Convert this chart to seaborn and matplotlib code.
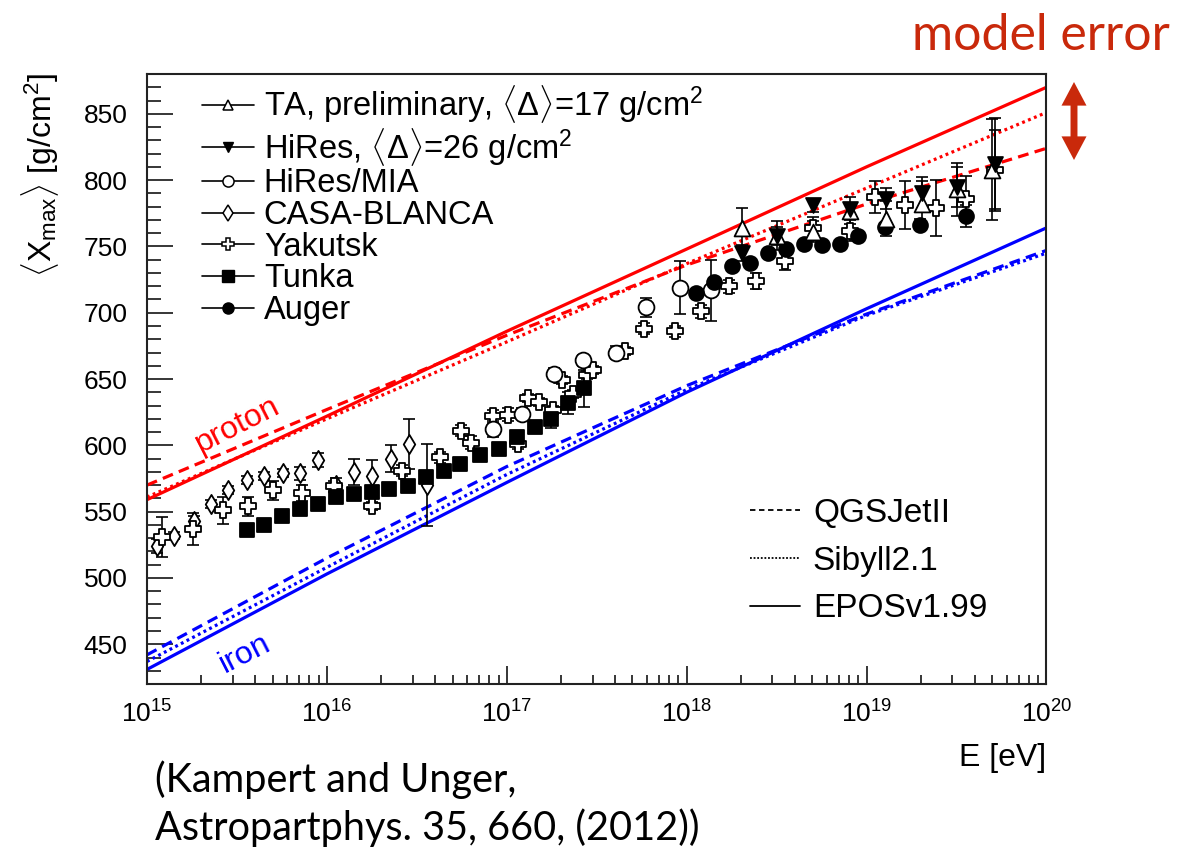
import numpy as np
import pandas as pd
import matplotlib
matplotlib.use('Agg')
import matplotlib.pyplot as plt
import seaborn as sns
from matplotlib.lines import Line2D
from matplotlib.patches import FancyArrowPatch
from matplotlib.ticker import LogLocator, LogFormatterMathtext, MultipleLocator

# ---- data ----
# model curves, one value per decade 1e15 .. 1e20
model_E = [1e15, 1e16, 1e17, 1e18, 1e19, 1e20]
epos_p = [559, 622, 686, 748, 810, 870]
qgs_p = [570, 627, 683, 736, 782, 824]
sib_p = [561, 620, 678, 737, 794, 851]
epos_fe = [431, 503, 572, 640, 703, 764]
qgs_fe = [442, 515, 584, 645, 699, 747]
sib_fe = [437, 508, 578, 642, 698, 745]

ta_E = [2.03e18, 3.17e18, 5.04e18, 8.05e18, 1.28e19, 2.04e19, 3.18e19, 4.99e19]
ta_X = [764, 758, 761, 777, 771, 782, 793, 808]
ta_err = [15, 11, 8, 10, 13, 17, 20, 38]

hires_E = [2.03e18, 3.17e18, 5.07e18, 8.05e18, 1.28e19, 2.04e19, 3.18e19, 5.16e19]
hires_X = [745, 758, 781, 778, 786, 790, 795, 812]
hires_err = [6, 7, 5, 5, 8, 12, 15, 35]

mia_E = [8.43e16, 1.22e17, 1.82e17, 2.67e17, 4.06e17, 5.96e17, 9.23e17, 1.36e18]
mia_X = [612, 624, 654, 664, 670, 704, 719, 717]
mia_err = [6, 4, 4, 4, 5, 7, 20, 23]

casa_E = [1.13e15, 1.41e15, 1.82e15, 2.26e15, 2.83e15, 3.58e15, 4.49e15, 5.69e15,
          7.1e15, 8.97e15, 1.12e16, 1.42e16, 1.79e16, 2.26e16, 2.88e16, 3.6e16]
casa_X = [524, 532, 543, 556, 566, 574, 577, 579, 579, 589, 570, 580, 577, 590, 601, 570]
casa_err = [5, 3, 4, 3, 3, 3, 3, 3, 5, 5, 5, 10, 12, 10, 19, 31]

yak_E = [1.21e15, 1.81e15, 2.64e15, 3.63e15, 5.0e15, 7.24e15, 1.09e16, 1.79e16,
         2.61e16, 4.23e16, 5.57e16, 6.34e16, 8.43e16, 1.01e17, 1.15e17, 1.31e17,
         1.52e17, 1.8e17, 2.02e17, 2.33e17, 2.79e17, 3.03e17, 4.56e17, 5.83e17,
         8.65e17, 1.2e18, 1.71e18, 2.43e18, 3.53e18, 5.04e18, 8.05e18, 1.11e19,
         1.63e19, 2.42e19, 3.57e19, 5.16e19]
yak_X = [531, 537, 551, 554, 566, 564, 569, 554, 581, 591, 611, 602, 622, 623, 601, 636,
         633, 627, 649, 639, 653, 657, 671, 688, 686, 701, 720, 724, 739, 764, 762, 787,
         781, 779, 786, 808]
yak_err = [15, 12, 10, 7, 7, 6, 4, 3, 4, 4, 4, 5, 5, 5, 4, 3,
           3, 3, 3, 3, 3, 3, 3, 4, 4, 5, 5, 6, 7, 8, 8, 12,
           18, 21, 17, 30]

tunka_E = [3.58e15, 4.49e15, 5.66e15, 7.1e15, 8.9e15, 1.12e16, 1.42e16, 1.79e16,
           2.22e16, 2.84e16, 3.56e16, 4.49e16, 5.51e16, 7.11e16, 9.0e16, 1.14e17,
           1.43e17, 1.77e17, 2.2e17, 2.7e17]
tunka_X = [536, 540, 547, 552, 556, 561, 563, 564.5, 567, 569.5, 576, 581, 586, 593,
           597, 606, 614, 620, 632, 643]
tunka_err = [2, 2, 2, 2, 2, 2, 2, 2, 2, 2, 3, 2, 2, 2, 2, 3, 4, 7, 8, 14]

auger_E = [1.13e18, 1.42e18, 1.79e18, 2.26e18, 2.83e18, 3.56e18, 4.51e18, 5.66e18,
           7.16e18, 8.93e18, 1.26e19, 1.97e19, 3.57e19]
auger_X = [715, 723, 735, 737.5, 745, 748, 752, 751, 752, 758, 764.5, 766.5, 773]
auger_err = [2, 2, 2, 2, 2, 2, 2, 2, 2, 3, 3, 4, 8]

# ---- style ----
sns.set_style('ticks')
plt.rcParams['font.family'] = ['Liberation Sans', 'DejaVu Sans']
plt.rcParams['mathtext.fontset'] = 'custom'
plt.rcParams['mathtext.rm'] = 'Liberation Sans'
plt.rcParams['mathtext.it'] = 'Liberation Sans:italic'
plt.rcParams['mathtext.bf'] = 'Liberation Sans:bold'
for key in ['text.color', 'axes.labelcolor', 'xtick.color', 'ytick.color', 'axes.edgecolor']:
    plt.rcParams[key] = 'black'

fig = plt.figure(figsize=(11.89, 8.49), dpi=100)
ax = fig.add_axes([0.1236, 0.1943, 0.7565, 0.7185])
ax.set_xscale('log')

# model predictions
dash = (0, (3.4, 2.0))
dot = (0, (0.9, 1.1))
models = [(epos_p, 'red', '-'), (qgs_p, 'red', dash), (sib_p, 'red', dot),
          (epos_fe, 'blue', '-'), (qgs_fe, 'blue', dash), (sib_fe, 'blue', dot)]
for vals, col, ls in models:
    sns.lineplot(x=model_E, y=vals, ax=ax, color=col, linestyle=ls, linewidth=2.3, zorder=2)

# measurements
sets = [
    (casa_E, casa_X, casa_err, 'd', 'white', 95),
    (yak_E, yak_X, yak_err, 'P', 'white', 130),
    (tunka_E, tunka_X, tunka_err, 's', 'black', 115),
    (mia_E, mia_X, mia_err, 'o', 'white', 130),
    (auger_E, auger_X, auger_err, 'o', 'black', 115),
    (ta_E, ta_X, ta_err, '^', 'white', 130),
    (hires_E, hires_X, hires_err, 'v', 'black', 115),
]
for E, X, err, mk, fc, size in sets:
    ax.errorbar(E, X, yerr=err, fmt='none', ecolor='black', elinewidth=1.2,
                capsize=4, capthick=1.2, zorder=3)
    sns.scatterplot(x=E, y=X, ax=ax, marker=mk, color=fc, edgecolor='black',
                    linewidth=1.3, s=size, zorder=4)

ax.set_xlim(1e15, 1e20)
ax.set_ylim(420, 880)
ax.yaxis.set_major_locator(MultipleLocator(50))
ax.yaxis.set_minor_locator(MultipleLocator(10))
ax.set_yticks(np.arange(450, 851, 50))
ax.xaxis.set_major_locator(LogLocator(base=10, numticks=10))
ax.xaxis.set_minor_locator(LogLocator(base=10, subs=np.arange(2, 10), numticks=20))
ax.xaxis.set_major_formatter(LogFormatterMathtext())
ax.tick_params(axis='both', which='both', direction='in', top=False, right=False,
               labelsize=19, width=1.1)
ax.tick_params(axis='y', which='major', length=19, pad=14)
ax.tick_params(axis='y', which='minor', length=10)
ax.tick_params(axis='x', which='major', length=13, pad=12)
ax.tick_params(axis='x', which='minor', length=6.5)
for sp in ax.spines.values():
    sp.set_linewidth(1.5)
    sp.set_color('#222222')

ax.text(-0.119, 0.834, r'$\langle$X$_{\rm max}\rangle$ [g/cm$^{2}$]', transform=ax.transAxes,
        rotation=90, ha='center', va='center', fontsize=23)
ax.text(1.0, -0.121, 'E [eV]', transform=ax.transAxes, ha='right', va='center', fontsize=23)

ax.text(3.2e15, 615, 'proton', color='red', fontsize=23, rotation=27,
        ha='center', va='center')
ax.text(3.5e15, 443, 'iron', color='blue', fontsize=23, rotation=27,
        ha='center', va='center')

# legends
data_handles = [
    Line2D([], [], color='black', lw=1.2, marker='^', ms=7, mfc='white', mec='black', mew=1.1),
    Line2D([], [], color='black', lw=1.2, marker='v', ms=7, mfc='black', mec='black'),
    Line2D([], [], color='black', lw=1.2, marker='o', ms=8, mfc='white', mec='black', mew=1.1),
    Line2D([], [], color='black', lw=1.2, marker='d', ms=8, mfc='white', mec='black', mew=1.1),
    Line2D([], [], color='black', lw=1.2, marker='P', ms=9, mfc='white', mec='black', mew=1.1),
    Line2D([], [], color='black', lw=1.2, marker='s', ms=8, mfc='black', mec='black'),
    Line2D([], [], color='black', lw=1.2, marker='o', ms=8, mfc='black', mec='black'),
]
data_labels = [r'TA, preliminary, $\langle\Delta\rangle$=17 g/cm$^{2}$',
               r'HiRes, $\langle\Delta\rangle$=26 g/cm$^{2}$',
               'HiRes/MIA', 'CASA-BLANCA', 'Yakutsk', 'Tunka', 'Auger']
leg1 = ax.legend(data_handles, data_labels, loc='upper left', bbox_to_anchor=(0.061, 0.985),
                 frameon=False, fontsize=23.5, handlelength=1.6, handletextpad=0.3,
                 labelspacing=0.02, borderpad=0, borderaxespad=0)
ax.add_artist(leg1)

model_handles = [Line2D([], [], color='black', lw=1.3, linestyle=(0, (3, 2))),
                 Line2D([], [], color='black', lw=1.3, linestyle=(0, (1, 1))),
                 Line2D([], [], color='black', lw=1.3, linestyle='-')]
ax.legend(model_handles, ['QGSJetII', 'Sibyll2.1', 'EPOSv1.99'], loc='upper left',
          bbox_to_anchor=(0.670, 0.305), frameon=False, fontsize=24, handlelength=1.5,
          handletextpad=0.4, labelspacing=0.5, borderpad=0, borderaxespad=0)

# annotations outside the frame
red = '#c9290b'
fig.text(912 / 1189, 1 - 50 / 849, 'model error', color=red, fontsize=36,
         family=['Lato', 'DejaVu Sans'], ha='left', va='baseline')
mid = (1074 / 1189, 1 - 121 / 849)
for tip in [(1074 / 1189, 1 - 82 / 849), (1074 / 1189, 1 - 160 / 849)]:
    fig.patches.append(FancyArrowPatch(mid, tip, transform=fig.transFigure,
                                       arrowstyle='simple,head_length=17,head_width=18,tail_width=5',
                                       mutation_scale=1, color=red, shrinkA=0, shrinkB=0, lw=0))
fig.text(155 / 1189, 1 - 760 / 849, '(Kampert and Unger,\nAstropartphys. 35, 660, (2012))',
         fontsize=28.5, family=['Lato', 'DejaVu Sans'], ha='left', va='top', linespacing=1.3)

fig.savefig('out.png', dpi=100)
